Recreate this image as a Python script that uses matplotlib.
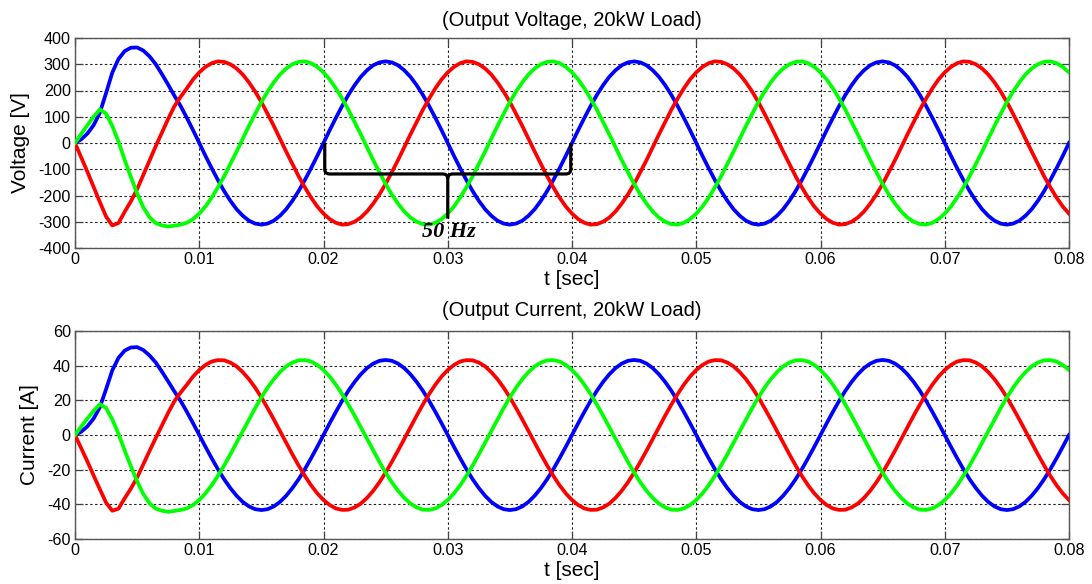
import numpy as np
import matplotlib
matplotlib.use("Agg")
import matplotlib.pyplot as plt
from matplotlib.path import Path
from matplotlib.patches import PathPatch

plt.rcParams['font.family'] = ['Liberation Sans', 'DejaVu Sans']
plt.rcParams['axes.unicode_minus'] = False

# ---------------- data, time in ms ----------------
t_ms = [0, 0.5, 1, 1.5, 2, 2.5, 3, 3.5, 4, 4.5, 5, 5.5, 6, 6.5, 7, 7.5, 8, 8.5, 9, 9.5,
        10, 10.5, 11, 11.5, 12, 12.5, 13, 13.5, 14, 14.5, 15, 15.5, 16, 16.5, 17, 17.5, 18, 18.5, 19, 19.5,
        20, 20.5, 21, 21.5, 22, 22.5, 23, 23.5, 24, 24.5, 25, 25.5, 26, 26.5, 27, 27.5, 28, 28.5, 29, 29.5,
        30, 30.5, 31, 31.5, 32, 32.5, 33, 33.5, 34, 34.5, 35, 35.5, 36, 36.5, 37, 37.5, 38, 38.5, 39, 39.5,
        40, 40.5, 41, 41.5, 42, 42.5, 43, 43.5, 44, 44.5, 45, 45.5, 46, 46.5, 47, 47.5, 48, 48.5, 49, 49.5,
        50, 50.5, 51, 51.5, 52, 52.5, 53, 53.5, 54, 54.5, 55, 55.5, 56, 56.5, 57, 57.5, 58, 58.5, 59, 59.5,
        60, 60.5, 61, 61.5, 62, 62.5, 63, 63.5, 64, 64.5, 65, 65.5, 66, 66.5, 67, 67.5, 68, 68.5, 69, 69.5,
        70, 70.5, 71, 71.5, 72, 72.5, 73, 73.5, 74, 74.5, 75, 75.5, 76, 76.5, 77, 77.5, 78, 78.5, 79, 79.5,
        80]

# Output voltage [V]
v_blue = [0, 14, 36, 68, 115, 190, 268, 320, 350, 363, 364, 352, 330, 300, 262, 222, 180,
          141, 96, 49, 0, -49, -96, -141, -183, -220, -252, -277, -296, -307, -311, -307, -296, -277, -252, -220, -183, -141, -96, -49,
          0, 49, 96, 141, 183, 220, 252, 277, 296, 307, 311, 307, 296, 277, 252, 220, 183, 141, 96, 49, 0, -49, -96, -141, -183, -220, -252, -277, -296, -307, -311, -307, -296, -277, -252, -220, -183, -141, -96, -49,
          0, 49, 96, 141, 183, 220, 252, 277, 296, 307, 311, 307, 296, 277, 252, 220, 183, 141, 96, 49, 0, -49, -96, -141, -183, -220, -252, -277, -296, -307, -311, -307, -296, -277, -252, -220, -183, -141, -96, -49,
          0, 49, 96, 141, 183, 220, 252, 277, 296, 307, 311, 307, 296, 277, 252, 220, 183, 141, 96, 49, 0, -49, -96, -141, -183, -220, -252, -277, -296, -307, -311, -307, -296, -277, -252, -220, -183, -141, -96, -49,
          0]
v_red = [0, -55, -110, -168, -225, -280, -314, -305, -262, -222, -176, -121, -66, -12, 40, 92, 140,
         176, 208, 242, 269, 290, 304, 311, 309, 300, 284, 261, 231, 196, 156, 111, 65, 16, -33, -80, -127, -169, -208, -242,
         -269, -290, -304, -311, -309, -300, -284, -261, -231, -196, -156, -111, -65, -16, 33, 80, 127, 169, 208, 242, 269, 290, 304, 311, 309, 300, 284, 261, 231, 196, 156, 111, 65, 16, -33, -80, -127, -169, -208, -242,
         -269, -290, -304, -311, -309, -300, -284, -261, -231, -196, -156, -111, -65, -16, 33, 80, 127, 169, 208, 242, 269, 290, 304, 311, 309, 300, 284, 261, 231, 196, 156, 111, 65, 16, -33, -80, -127, -169, -208, -242,
         -269, -290, -304, -311, -309, -300, -284, -261, -231, -196, -156, -111, -65, -16, 33, 80, 127, 169, 208, 242, 269, 290, 304, 311, 309, 300, 284, 261, 231, 196, 156, 111, 65, 16, -33, -80, -127, -169, -208, -242,
         -269]
v_green = [0, 35, 68, 100, 128, 112, 65, 5, -65, -130, -192, -245, -283, -305, -314, -318, -315,
           -311, -304, -290, -269, -242, -208, -169, -127, -80, -33, 16, 65, 111, 156, 196, 231, 261, 284, 300, 309, 311, 304, 290,
           269, 242, 208, 169, 127, 80, 33, -16, -65, -111, -156, -196, -231, -261, -284, -300, -309, -311, -304, -290, -269, -242, -208, -169, -127, -80, -33, 16, 65, 111, 156, 196, 231, 261, 284, 300, 309, 311, 304, 290,
           269, 242, 208, 169, 127, 80, 33, -16, -65, -111, -156, -196, -231, -261, -284, -300, -309, -311, -304, -290, -269, -242, -208, -169, -127, -80, -33, 16, 65, 111, 156, 196, 231, 261, 284, 300, 309, 311, 304, 290,
           269, 242, 208, 169, 127, 80, 33, -16, -65, -111, -156, -196, -231, -261, -284, -300, -309, -311, -304, -290, -269, -242, -208, -169, -127, -80, -33, 16, 65, 111, 156, 196, 231, 261, 284, 300, 309, 311, 304, 290,
           269]

# Output current [A]
i_blue = [0, 1.9, 5.0, 9.5, 16.0, 26.4, 37.3, 44.5, 48.7, 50.5, 50.7, 49.0, 45.9, 41.8, 36.5, 30.9, 25.1,
          19.7, 13.4, 6.8, 0, -6.8, -13.4, -19.7, -25.5, -30.6, -35.0, -38.6, -41.2, -42.8, -43.3, -42.8, -41.2, -38.6, -35.0, -30.6, -25.5, -19.7, -13.4, -6.8,
          0, 6.8, 13.4, 19.7, 25.5, 30.6, 35.0, 38.6, 41.2, 42.8, 43.3, 42.8, 41.2, 38.6, 35.0, 30.6, 25.5, 19.7, 13.4, 6.8, 0, -6.8, -13.4, -19.7, -25.5, -30.6, -35.0, -38.6, -41.2, -42.8, -43.3, -42.8, -41.2, -38.6, -35.0, -30.6, -25.5, -19.7, -13.4, -6.8,
          0, 6.8, 13.4, 19.7, 25.5, 30.6, 35.0, 38.6, 41.2, 42.8, 43.3, 42.8, 41.2, 38.6, 35.0, 30.6, 25.5, 19.7, 13.4, 6.8, 0, -6.8, -13.4, -19.7, -25.5, -30.6, -35.0, -38.6, -41.2, -42.8, -43.3, -42.8, -41.2, -38.6, -35.0, -30.6, -25.5, -19.7, -13.4, -6.8,
          0, 6.8, 13.4, 19.7, 25.5, 30.6, 35.0, 38.6, 41.2, 42.8, 43.3, 42.8, 41.2, 38.6, 35.0, 30.6, 25.5, 19.7, 13.4, 6.8, 0, -6.8, -13.4, -19.7, -25.5, -30.6, -35.0, -38.6, -41.2, -42.8, -43.3, -42.8, -41.2, -38.6, -35.0, -30.6, -25.5, -19.7, -13.4, -6.8,
          0]
i_red = [0, -7.7, -15.3, -23.4, -31.3, -39.0, -43.7, -42.5, -36.5, -30.9, -24.5, -16.8, -9.2, -1.7, 5.6, 12.8, 19.5,
         24.5, 29.0, 33.7, 37.5, 40.4, 42.4, 43.2, 43.1, 41.8, 39.6, 36.3, 32.2, 27.3, 21.7, 15.5, 9.0, 2.3, -4.5, -11.2, -17.6, -23.6, -29.0, -33.7,
         -37.5, -40.4, -42.4, -43.2, -43.1, -41.8, -39.6, -36.3, -32.2, -27.3, -21.7, -15.5, -9.0, -2.3, 4.5, 11.2, 17.6, 23.6, 29.0, 33.7, 37.5, 40.4, 42.4, 43.2, 43.1, 41.8, 39.6, 36.3, 32.2, 27.3, 21.7, 15.5, 9.0, 2.3, -4.5, -11.2, -17.6, -23.6, -29.0, -33.7,
         -37.5, -40.4, -42.4, -43.2, -43.1, -41.8, -39.6, -36.3, -32.2, -27.3, -21.7, -15.5, -9.0, -2.3, 4.5, 11.2, 17.6, 23.6, 29.0, 33.7, 37.5, 40.4, 42.4, 43.2, 43.1, 41.8, 39.6, 36.3, 32.2, 27.3, 21.7, 15.5, 9.0, 2.3, -4.5, -11.2, -17.6, -23.6, -29.0, -33.7,
         -37.5, -40.4, -42.4, -43.2, -43.1, -41.8, -39.6, -36.3, -32.2, -27.3, -21.7, -15.5, -9.0, -2.3, 4.5, 11.2, 17.6, 23.6, 29.0, 33.7, 37.5, 40.4, 42.4, 43.2, 43.1, 41.8, 39.6, 36.3, 32.2, 27.3, 21.7, 15.5, 9.0, 2.3, -4.5, -11.2, -17.6, -23.6, -29.0, -33.7,
         -37.5]
i_green = [0, 4.9, 9.5, 13.9, 17.8, 15.6, 9.0, 0.7, -9.0, -18.1, -26.7, -34.1, -39.4, -42.5, -43.7, -44.3, -43.8,
           -43.2, -42.4, -40.4, -37.5, -33.7, -29.0, -23.6, -17.6, -11.2, -4.5, 2.3, 9.0, 15.5, 21.7, 27.3, 32.2, 36.3, 39.6, 41.8, 43.1, 43.2, 42.4, 40.4,
           37.5, 33.7, 29.0, 23.6, 17.6, 11.2, 4.5, -2.3, -9.0, -15.5, -21.7, -27.3, -32.2, -36.3, -39.6, -41.8, -43.1, -43.2, -42.4, -40.4, -37.5, -33.7, -29.0, -23.6, -17.6, -11.2, -4.5, 2.3, 9.0, 15.5, 21.7, 27.3, 32.2, 36.3, 39.6, 41.8, 43.1, 43.2, 42.4, 40.4,
           37.5, 33.7, 29.0, 23.6, 17.6, 11.2, 4.5, -2.3, -9.0, -15.5, -21.7, -27.3, -32.2, -36.3, -39.6, -41.8, -43.1, -43.2, -42.4, -40.4, -37.5, -33.7, -29.0, -23.6, -17.6, -11.2, -4.5, 2.3, 9.0, 15.5, 21.7, 27.3, 32.2, 36.3, 39.6, 41.8, 43.1, 43.2, 42.4, 40.4,
           37.5, 33.7, 29.0, 23.6, 17.6, 11.2, 4.5, -2.3, -9.0, -15.5, -21.7, -27.3, -32.2, -36.3, -39.6, -41.8, -43.1, -43.2, -42.4, -40.4, -37.5, -33.7, -29.0, -23.6, -17.6, -11.2, -4.5, 2.3, 9.0, 15.5, 21.7, 27.3, 32.2, 36.3, 39.6, 41.8, 43.1, 43.2, 42.4, 40.4,
           37.5]

xticks = [0, 0.01, 0.02, 0.03, 0.04, 0.05, 0.06, 0.07, 0.08]
xtick_labels = ['0', '0.01', '0.02', '0.03', '0.04', '0.05', '0.06', '0.07', '0.08']
v_ticks = [-400, -300, -200, -100, 0, 100, 200, 300, 400]
i_ticks = [-60, -40, -20, 0, 20, 40, 60]

# brace annotation (50 Hz period marker)
brace_t0, brace_t1, brace_mid = 0.0201, 0.0399, 0.0300
brace_top, brace_level, brace_tip = 0, -118, -288
brace_label = '50 Hz'

# ---------------- figure ----------------
t = np.array(t_ms) / 1000.0
W, H = 1092, 584
fig = plt.figure(figsize=(W / 100, H / 100), dpi=100)
ax1 = fig.add_axes([75 / W, 1 - 248 / H, 994 / W, 210 / H])
ax2 = fig.add_axes([75 / W, 1 - 539 / H, 994 / W, 208 / H])

lw = 2.7
fs = 11.6
for ax, (b, r, g), yt, ylab, ttl, toff in [
        (ax1, (v_blue, v_red, v_green), v_ticks, 'Voltage [V]', '(Output Voltage, 20kW Load)', 17.5 / 210),
        (ax2, (i_blue, i_red, i_green), i_ticks, 'Current [A]', '(Output Current, 20kW Load)', 20.0 / 208)]:
    ax.plot(t, b, color='#0000ff', lw=lw, solid_joinstyle='round', zorder=3)
    ax.plot(t, r, color='#ff0000', lw=lw, solid_joinstyle='round', zorder=3)
    ax.plot(t, g, color='#00ff00', lw=lw, solid_joinstyle='round', zorder=3)
    ax.set_xlim(xticks[0], xticks[-1])
    ax.set_ylim(yt[0], yt[-1])
    ax.set_xticks(xticks)
    ax.set_xticklabels(xtick_labels)
    ax.set_yticks(yt)
    ax.set_yticklabels([str(v) for v in yt])
    ax.grid(True, color='#222222', lw=0.8, linestyle=(0, (2.2, 2.2)))
    ax.tick_params(direction='in', length=6, width=0.9, color='#444444',
                   top=True, right=True, labelsize=fs, pad=3)
    for s in ax.spines.values():
        s.set_color('#555555')
        s.set_linewidth(1.0)
    ax.set_xlabel('t [sec]', fontsize=15, labelpad=2)
    ax.set_ylabel(ylab, fontsize=15, labelpad=6)
    ax.text(0.5, 1 + toff, ttl, transform=ax.transAxes, ha='center', va='center',
            fontsize=14.5)

# brace
rt = 0.0004
rv = 18
verts = [(brace_t0, brace_top), (brace_t0, brace_level + rv),
         (brace_t0, brace_level), (brace_t0 + rt, brace_level),
         (brace_mid - rt, brace_level),
         (brace_mid, brace_level), (brace_mid, brace_level - rv),
         (brace_mid, brace_tip)]
codes = [Path.MOVETO, Path.LINETO, Path.CURVE3, Path.CURVE3, Path.LINETO,
         Path.CURVE3, Path.CURVE3, Path.LINETO]
verts2 = [(brace_t1, brace_top), (brace_t1, brace_level + rv),
          (brace_t1, brace_level), (brace_t1 - rt, brace_level),
          (brace_mid + rt, brace_level),
          (brace_mid, brace_level), (brace_mid, brace_level - rv)]
codes2 = [Path.MOVETO, Path.LINETO, Path.CURVE3, Path.CURVE3, Path.LINETO,
          Path.CURVE3, Path.CURVE3]
for vv, cc in [(verts, codes), (verts2, codes2)]:
    ax1.add_patch(PathPatch(Path(vv, cc), fill=False, lw=2.3, edgecolor='black',
                            joinstyle='round', capstyle='butt', zorder=5))
ax1.text(brace_mid + 0.0001, -338, brace_label, ha='center', va='center',
         fontfamily='Liberation Serif', fontweight='bold', fontstyle='italic',
         fontsize=16, zorder=6)

fig.savefig('out.png', dpi=100, facecolor='white')
